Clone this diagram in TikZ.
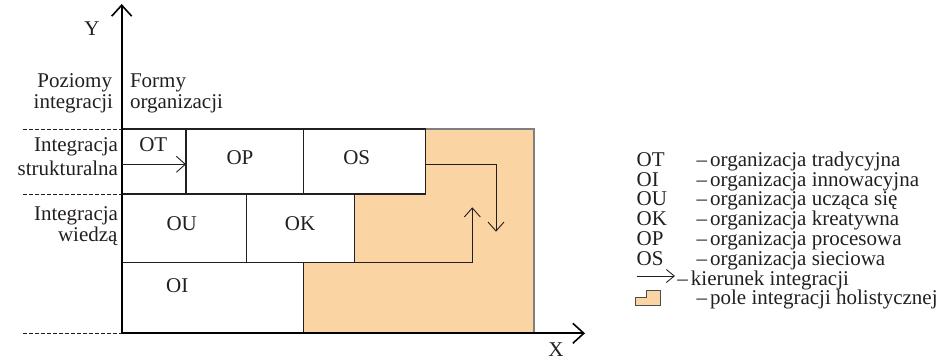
\documentclass[tikz,border=0pt]{standalone}
\usepackage{fontspec}
\setmainfont{Liberation Serif}
\usetikzlibrary{arrows.meta}
\definecolor{peach}{HTML}{FAD4A2}
\definecolor{ink}{HTML}{231F20}
\definecolor{edgegray}{HTML}{7F7F7F}
\newcommand{\lgd}[1]{–\hspace{0.15em}#1}
\begin{document}
\begin{tikzpicture}[x=1pt,y=-1pt,
  every node/.style={inner sep=0pt, outer sep=0pt, font=\fontsize{21}{22}\selectfont, text=ink},
  cell/.style={draw=ink, line width=1.2pt, fill=white, rectangle},
  arr/.style={draw=ink, line width=0.9pt, -{Straight Barb[length=9pt,width=16pt]}},
  legarr/.style={draw=ink, line width=0.9pt, -{Straight Barb[length=8pt,width=13pt]}},
  axisline/.style={draw=black, line width=2pt, -{Straight Barb[length=11pt,width=20pt,line width=1.6pt]}},
  guide/.style={draw=ink, line width=0.8pt, dash pattern=on 3.5pt off 2.5pt},
  field/.style={fill=peach, draw=edgegray, line width=1.2pt}
]
\useasboundingbox (0,0) rectangle (942,361);

% holistic integration field
\draw[field] (303.3,333.3) -- (303.3,262.7) -- (354.7,262.7) -- (354.7,194)
  -- (425.7,194) -- (425.7,129) -- (534,129) -- (534,333.3) -- cycle;

% cells
\node[cell, minimum width=64.3pt, minimum height=65pt] (OT) at (153.85,161.5) {};
\node[cell, minimum width=117.3pt, minimum height=65pt] (OP) at (244.65,161.5) {};
\node[cell, minimum width=122.4pt, minimum height=65pt] (OS) at (364.5,161.5) {};
\node[cell, minimum width=125pt, minimum height=68.7pt] (OU) at (184.2,228.35) {};
\node[cell, minimum width=108pt, minimum height=68.7pt] (OK) at (300.7,228.35) {};
\node[cell, minimum width=181.6pt, minimum height=70.6pt] (OI) at (212.5,298) {};

% cell labels
\node[anchor=base] (tOT) at (153.3,151.7) {OT};
\node[anchor=base] (tOP) at (240,164.3) {OP};
\node[anchor=base] (tOS) at (356.7,164.3) {OS};
\node[anchor=base] (tOU) at (181.7,230) {OU};
\node[anchor=base] (tOK) at (300,230) {OK};
\node[anchor=base] (tOI) at (177.3,292.7) {OI};

% axes
\coordinate (O) at (121.7,333.3);
\coordinate (ytip) at (121.7,4);
\coordinate (xtip) at (585,333.3);
\draw[axisline] (O) -- (ytip);
\draw[axisline] (O) -- (xtip);
\node (Ylab) at (92,29) {Y};
\node (Xlab) at (556,350) {X};

% integration arrows
\coordinate (a1s) at (121.7,164.3);
\draw[arr] (a1s) -- (a1s -| OP.west);
\coordinate (a2e) at (496,231.7);
\draw[arr] (OS.east |- a1s) -| (a2e);
\coordinate (a3e) at (472.3,207.3);
\draw[arr] (OK.south east) -| (a3e);

% dashed guides
\coordinate (g1) at (23,129);
\coordinate (g2) at (23,194);
\coordinate (g3) at (23,333.3);
\draw[guide] (g1) -- (g1 -| O);
\draw[guide] (g2) -- (g2 -| O);
\draw[guide] (g3) -- (O);

% left labels
\node[anchor=base east] (l1) at (112,87) {Poziomy};
\node[anchor=base east] (l2) at (113,108) {integracji};
\node[anchor=base west] (f1) at (130,87) {Formy};
\node[anchor=base west] (f2) at (130,108) {organizacji};
\node[anchor=base east] (s1) at (118,151.7) {Integracja};
\node[anchor=base east] (s2) at (118,175) {strukturalna};
\node[anchor=base east] (w1) at (118,220) {Integracja};
\node[anchor=base east] (w2) at (117.5,241.7) {wiedzą};

% legend
\node[anchor=base west] (kOT) at (636.7,166) {OT};
\node[anchor=base west] (dOT) at (696.5,166) {\lgd{organizacja tradycyjna}};
\node[anchor=base west] (kOI) at (636.7,186) {OI};
\node[anchor=base west] (dOI) at (696.5,186) {\lgd{organizacja innowacyjna}};
\node[anchor=base west] (kOU) at (636.7,205.8) {OU};
\node[anchor=base west] (dOU) at (696.5,205.8) {\lgd{organizacja ucząca się}};
\node[anchor=base west] (kOK) at (636.7,225.6) {OK};
\node[anchor=base west] (dOK) at (696.5,225.6) {\lgd{organizacja kreatywna}};
\node[anchor=base west] (kOP) at (636.7,245.4) {OP};
\node[anchor=base west] (dOP) at (696.5,245.4) {\lgd{organizacja procesowa}};
\node[anchor=base west] (kOS) at (636.7,265.2) {OS};
\node[anchor=base west] (dOS) at (696.5,265.2) {\lgd{organizacja sieciowa}};
\coordinate (la1) at (636.7,276);
\coordinate (la2) at (675,276);
\draw[legarr] (la1) -- (la2);
\node[anchor=base west] (dArr) at (677.3,285) {\lgd{kierunek integracji}};
\draw[fill=peach, draw=ink!80, line width=0.8pt] (635,305) -- (660,305) -- (660,290.5)
  -- (646,290.5) -- (646,297.5) -- (635,297.5) -- cycle;
\node[anchor=base west] (dPole) at (696.5,304.8) {\lgd{pole integracji holistycznej}};
\end{tikzpicture}
\end{document}
